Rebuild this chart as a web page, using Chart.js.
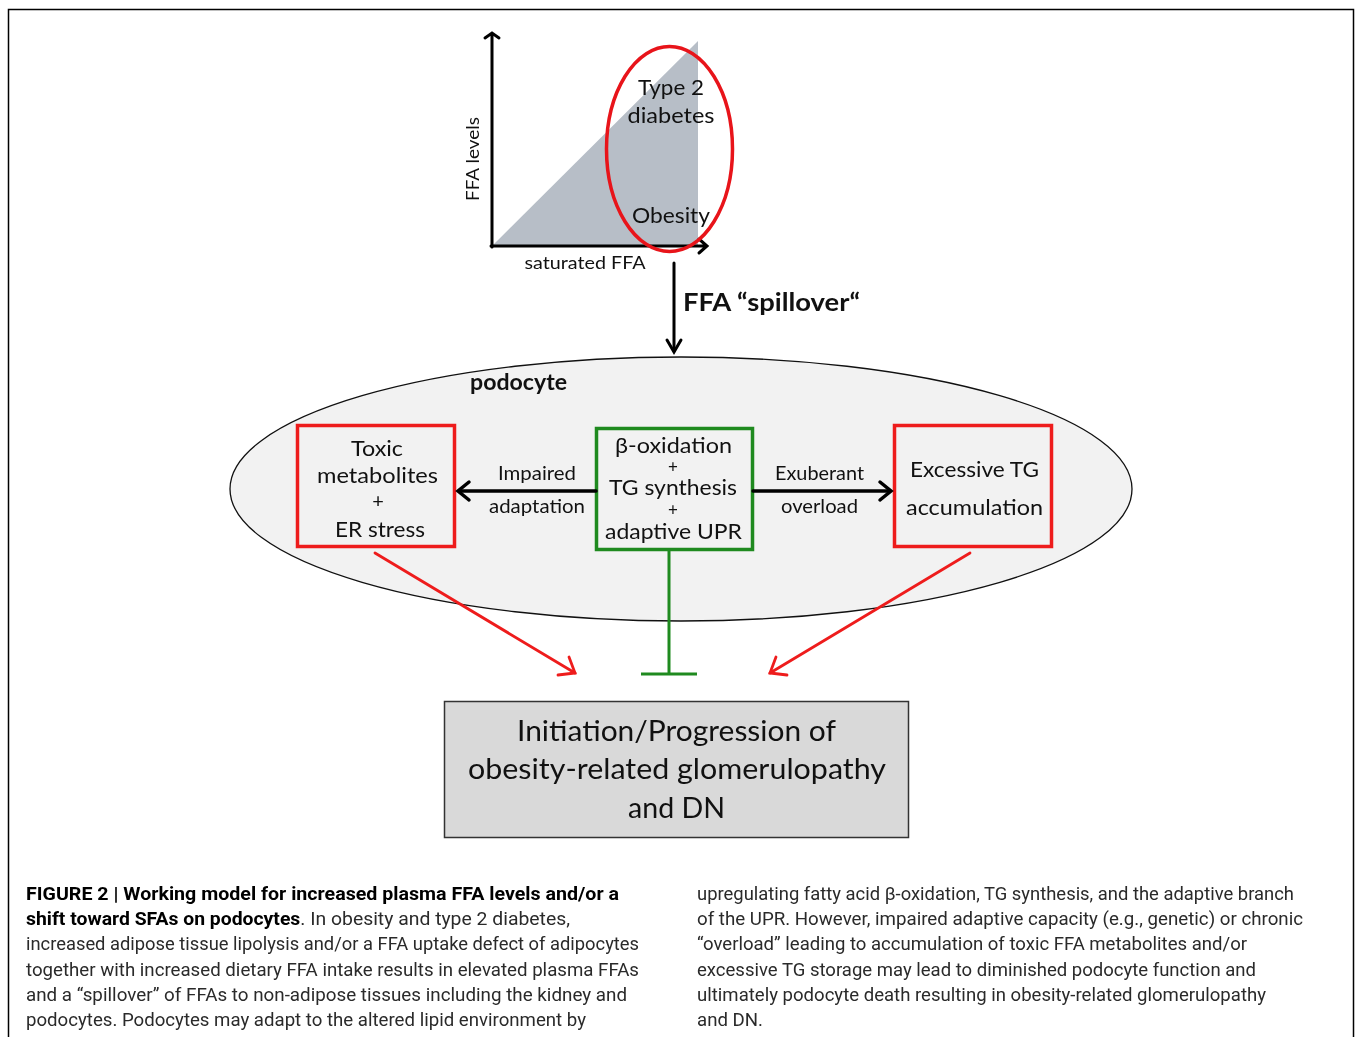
<!DOCTYPE html>
<html>
<head>
<meta charset="utf-8">
<title>Working model for increased plasma FFA levels</title>
<script src="https://cdn.jsdelivr.net/npm/chart.js@4.4.1/dist/chart.umd.min.js"></script>
<style>
  html, body { margin: 0; padding: 0; background: #fff; }
  body { width: 1356px; height: 1037px; position: relative; overflow: hidden; }
  #ffaChart { position: absolute; left: 440px; top: 20px; }
  #diagram { position: absolute; left: 0; top: 0; pointer-events: none; }
  .cal { font-family: Lato, "Open Sans", sans-serif; fill: #111; }
  .cap { font-family: Roboto, "Liberation Sans", sans-serif; font-size: 18px; fill: #2a2a2a; }
  .capb { font-weight: 700; fill: #000; }
</style>
</head>
<body>
<canvas id="ffaChart" width="300" height="260"></canvas>

<svg id="diagram" width="1356" height="1037" xmlns="http://www.w3.org/2000/svg">
  <!-- page frame -->
  <rect x="8.5" y="9.5" width="1345" height="1100" fill="none" stroke="#000" stroke-width="1.5"/>

  <!-- labels of the little FFA plot -->
  <text class="cal" font-size="18" text-anchor="middle" textLength="84" lengthAdjust="spacingAndGlyphs"
        transform="translate(478.5,159) rotate(-90)">FFA levels</text>
  <text class="cal" x="585" y="268.5" font-size="18" text-anchor="middle" textLength="121" lengthAdjust="spacingAndGlyphs">saturated FFA</text>
  <text class="cal" x="671" y="95" font-size="22" text-anchor="middle" textLength="66" lengthAdjust="spacingAndGlyphs">Type 2</text>
  <text class="cal" x="671" y="123" font-size="22" text-anchor="middle" textLength="87" lengthAdjust="spacingAndGlyphs">diabetes</text>
  <text class="cal" x="671" y="223" font-size="22" text-anchor="middle" textLength="78" lengthAdjust="spacingAndGlyphs">Obesity</text>
  <ellipse cx="669.5" cy="149" rx="63" ry="102.5" fill="none" stroke="#e8141a" stroke-width="3.5"/>

  <!-- spillover arrow -->
  <g stroke="#000" stroke-width="3" fill="none" stroke-linecap="round" stroke-linejoin="miter">
    <line x1="674" y1="263" x2="674" y2="351"/>
    <polyline points="667,340 674,352 681,340"/>
  </g>
  <text class="cal" x="683" y="311" font-size="24" font-weight="700" textLength="177" lengthAdjust="spacingAndGlyphs">FFA “spillover“</text>

  <!-- podocyte -->
  <ellipse cx="681" cy="489" rx="451" ry="132" fill="#f2f2f2" stroke="#111" stroke-width="1.3"/>
  <text class="cal" x="470" y="390" font-size="22" font-weight="700" textLength="97" lengthAdjust="spacingAndGlyphs">podocyte</text>

  <!-- boxes -->
  <rect x="297.5" y="425.5" width="157" height="121" fill="none" stroke="#ee1c1c" stroke-width="3.5"/>
  <rect x="596.5" y="428.5" width="156" height="121" fill="none" stroke="#1f8a1f" stroke-width="3.5"/>
  <rect x="894.5" y="425.5" width="157" height="121" fill="none" stroke="#ee1c1c" stroke-width="3.5"/>

  <text class="cal" x="377" y="455.5" font-size="22" text-anchor="middle" textLength="52" lengthAdjust="spacingAndGlyphs">Toxic</text>
  <text class="cal" x="377.5" y="482.5" font-size="22" text-anchor="middle" textLength="121" lengthAdjust="spacingAndGlyphs">metabolites</text>
  <text class="cal" x="378" y="508" font-size="20" text-anchor="middle">+</text>
  <text class="cal" x="380" y="536.5" font-size="22" text-anchor="middle" textLength="90" lengthAdjust="spacingAndGlyphs">ER stress</text>

  <text class="cal" x="673.5" y="453" font-size="21" text-anchor="middle" textLength="117" lengthAdjust="spacingAndGlyphs">β-oxidation</text>
  <text class="cal" x="673" y="472.5" font-size="17" text-anchor="middle">+</text>
  <text class="cal" x="673" y="495" font-size="21" text-anchor="middle" textLength="128" lengthAdjust="spacingAndGlyphs">TG synthesis</text>
  <text class="cal" x="673" y="515.5" font-size="17" text-anchor="middle">+</text>
  <text class="cal" x="673.5" y="538.5" font-size="21" text-anchor="middle" textLength="137" lengthAdjust="spacingAndGlyphs">adaptive UPR</text>

  <text class="cal" x="974.5" y="477" font-size="22" text-anchor="middle" textLength="129" lengthAdjust="spacingAndGlyphs">Excessive TG</text>
  <text class="cal" x="974.5" y="515" font-size="22" text-anchor="middle" textLength="137" lengthAdjust="spacingAndGlyphs">accumulation</text>

  <!-- black arrows between boxes -->
  <g stroke="#000" stroke-width="3.5" fill="none" stroke-linecap="round">
    <line x1="596" y1="491" x2="459" y2="491"/>
    <polyline points="469,482 458,491 469,500"/>
    <line x1="753" y1="491" x2="890" y2="491"/>
    <polyline points="880,482 891,491 880,500"/>
  </g>
  <text class="cal" x="537" y="480" font-size="19" text-anchor="middle" textLength="78" lengthAdjust="spacingAndGlyphs">Impaired</text>
  <text class="cal" x="537" y="513" font-size="19" text-anchor="middle" textLength="96" lengthAdjust="spacingAndGlyphs">adaptation</text>
  <text class="cal" x="819.5" y="480" font-size="19" text-anchor="middle" textLength="89" lengthAdjust="spacingAndGlyphs">Exuberant</text>
  <text class="cal" x="819.5" y="513" font-size="19" text-anchor="middle" textLength="77" lengthAdjust="spacingAndGlyphs">overload</text>

  <!-- red arrows and green inhibition -->
  <g stroke="#ee1c1c" stroke-width="2.8" fill="none" stroke-linecap="round">
    <line x1="375" y1="553" x2="575" y2="673"/>
    <polyline points="558,675 575,673 569,657"/>
    <line x1="970" y1="553" x2="770" y2="673"/>
    <polyline points="787,675 770,673 776,657"/>
  </g>
  <g stroke="#1f8a1f" stroke-width="3" fill="none">
    <line x1="669" y1="551" x2="669" y2="674"/>
    <line x1="641" y1="674" x2="697" y2="674"/>
  </g>

  <!-- outcome box -->
  <rect x="444.5" y="701.5" width="464" height="136" fill="#d9d9d9" stroke="#333" stroke-width="1.5"/>
  <text class="cal" x="676.5" y="741" font-size="29" text-anchor="middle" textLength="319" lengthAdjust="spacingAndGlyphs">Initiation/Progression of</text>
  <text class="cal" x="677" y="779" font-size="29" text-anchor="middle" textLength="418" lengthAdjust="spacingAndGlyphs">obesity-related glomerulopathy</text>
  <text class="cal" x="676.5" y="818" font-size="29" text-anchor="middle" textLength="97" lengthAdjust="spacingAndGlyphs">and DN</text>

  <!-- caption, left column -->
  <text class="cap" x="26" y="900" textLength="593" lengthAdjust="spacingAndGlyphs"><tspan class="capb">FIGURE 2 | Working model for increased plasma FFA levels and/or a</tspan></text>
  <text class="cap" x="26" y="925.2" textLength="544" lengthAdjust="spacingAndGlyphs"><tspan class="capb">shift toward SFAs on podocytes</tspan>. In obesity and type 2 diabetes,</text>
  <text class="cap" x="26" y="950.4" textLength="613" lengthAdjust="spacingAndGlyphs">increased adipose tissue lipolysis and/or a FFA uptake defect of adipocytes</text>
  <text class="cap" x="26" y="975.6" textLength="613" lengthAdjust="spacingAndGlyphs">together with increased dietary FFA intake results in elevated plasma FFAs</text>
  <text class="cap" x="26" y="1000.8" textLength="601" lengthAdjust="spacingAndGlyphs">and a “spillover” of FFAs to non-adipose tissues including the kidney and</text>
  <text class="cap" x="26" y="1026" textLength="560" lengthAdjust="spacingAndGlyphs">podocytes. Podocytes may adapt to the altered lipid environment by</text>

  <!-- caption, right column -->
  <text class="cap" x="697" y="900" textLength="597" lengthAdjust="spacingAndGlyphs">upregulating fatty acid β-oxidation, TG synthesis, and the adaptive branch</text>
  <text class="cap" x="697" y="925.2" textLength="606" lengthAdjust="spacingAndGlyphs">of the UPR. However, impaired adaptive capacity (e.g., genetic) or chronic</text>
  <text class="cap" x="697" y="950.4" textLength="550" lengthAdjust="spacingAndGlyphs">“overload” leading to accumulation of toxic FFA metabolites and/or</text>
  <text class="cap" x="697" y="975.6" textLength="559" lengthAdjust="spacingAndGlyphs">excessive TG storage may lead to diminished podocyte function and</text>
  <text class="cap" x="697" y="1000.8" textLength="569" lengthAdjust="spacingAndGlyphs">ultimately podocyte death resulting in obesity-related glomerulopathy</text>
  <text class="cap" x="697" y="1026" textLength="66" lengthAdjust="spacingAndGlyphs">and DN.</text>
</svg>

<script>
// saturated FFA (x) against FFA levels (y), both relative 0..1
var saturatedFFA = [0, 1];
var ffaLevels = [0, 1];

// arrows for the two axes, drawn on the chart area edges
var axisArrows = {
    id: 'axisArrows',
    afterDraw: function(chart) {
        var ctx = chart.ctx;
        var a = chart.chartArea;
        ctx.save();
        ctx.strokeStyle = '#000';
        ctx.lineWidth = 3;
        ctx.lineCap = 'round';

        // y axis
        ctx.beginPath();
        ctx.moveTo(a.left, a.bottom + 1);
        ctx.lineTo(a.left, a.top - 7);
        ctx.moveTo(a.left - 7, a.top - 3);
        ctx.lineTo(a.left, a.top - 8);
        ctx.lineTo(a.left + 7, a.top - 3);
        ctx.stroke();

        // x axis
        ctx.beginPath();
        ctx.moveTo(a.left - 1, a.bottom);
        ctx.lineTo(a.right + 8, a.bottom);
        ctx.moveTo(a.right + 1, a.bottom - 7);
        ctx.lineTo(a.right + 9, a.bottom);
        ctx.lineTo(a.right + 1, a.bottom + 7);
        ctx.stroke();
        ctx.restore();
    }
};

var ctx = document.getElementById('ffaChart').getContext('2d');
var chart = new Chart(ctx, {
    type: 'line',
    data: {
        datasets: [{
            data: saturatedFFA.map(function(x, i) {
                return { x: x, y: ffaLevels[i] };
            }),
            fill: 'origin',
            backgroundColor: '#b7bec7',
            borderWidth: 0,
            pointRadius: 0,
            tension: 0
        }]
    },
    options: {
        responsive: false,
        animation: false,
        layout: {
            padding: { left: 52, right: 42, top: 21, bottom: 34 }
        },
        plugins: {
            legend: { display: false },
            tooltip: { enabled: false }
        },
        scales: {
            x: { type: 'linear', min: 0, max: 1, display: false },
            y: { type: 'linear', min: 0, max: 1, display: false }
        }
    },
    plugins: [axisArrows]
});
</script>
</body>
</html>
